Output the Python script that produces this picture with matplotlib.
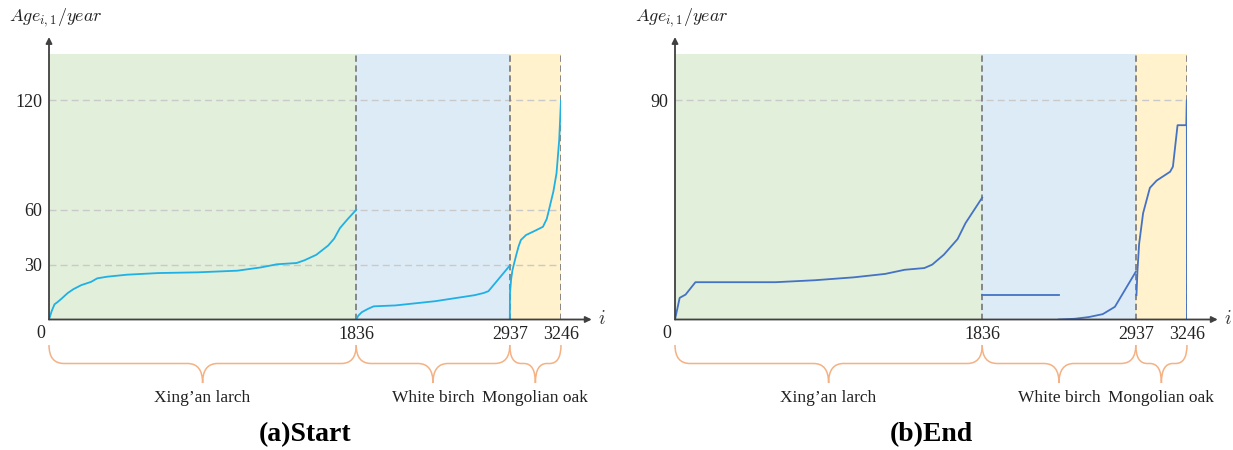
import numpy as np
import matplotlib
matplotlib.use("Agg")
import matplotlib.pyplot as plt
from matplotlib.path import Path
from matplotlib.patches import PathPatch

plt.rcParams["font.family"] = ["Liberation Serif", "DejaVu Serif"]
plt.rcParams["mathtext.fontset"] = "cm"

# boundaries between species (tree index i)
bounds = [0, 1836, 2937, 3246]
species = ["Xing\u2019an larch", "White birch", "Mongolian oak"]
shade_colors = ["#e2efda", "#ddebf7", "#fff2cc"]

# (a) Start
larch_start_i = [0, 16, 33, 52, 75, 111, 146, 193, 252, 288, 347, 465, 654, 890, 1126,
                 1267, 1362, 1480, 1527, 1598, 1669, 1704, 1739, 1786, 1836]
larch_start_age = [0, 4.6, 8.3, 9.6, 11.4, 14.4, 16.6, 18.8, 20.6, 22.5, 23.4, 24.5, 25.4,
                   25.8, 26.7, 28.5, 30.2, 30.9, 32.4, 35.4, 40.5, 44.2, 50, 55, 60]
birch_start_i = [1836, 1850, 1876, 1920, 1961, 2117, 2401, 2685, 2750, 2784, 2937]
birch_start_age = [0, 2, 4, 5.8, 7.2, 7.7, 10, 13.3, 14.5, 15.5, 29.5]
oak_start_i = [2937, 2938, 2945, 2953, 2973, 2990, 3004, 3035, 3086, 3137, 3160, 3178, 3200,
               3219, 3235, 3246]
oak_start_age = [0, 14.3, 22, 27, 34.3, 40, 43.5, 46.2, 48.4, 50.7, 55, 61.7, 70, 80, 98, 120]

# (b) End
larch_end_i = [0, 28, 63, 122, 601, 835, 1069, 1256, 1373, 1490, 1537, 1607, 1689, 1736, 1836]
larch_end_age = [0, 8.9, 10.2, 15.3, 15.3, 16.1, 17.3, 18.7, 20.4, 21.1, 22.5, 26.6, 33, 39.5, 50]
birch_end_a_i = [1836, 2388]
birch_end_a_age = [10.2, 10.2]
birch_end_b_i = [2385, 2500, 2600, 2700, 2787, 2937]
birch_end_b_age = [0, 0.3, 1, 2.2, 5.2, 19.6]
oak_end_i = [2941, 2947, 2957, 2981, 3022, 3063, 3144, 3161, 3189, 3242, 3245, 3246]
oak_end_age = [10, 20, 31, 43.6, 54, 57, 60.6, 62.7, 79.7, 79.7, 90, 0]

# the original figure does not space the index axis evenly
pos_frac = [0, 0.6, 0.9, 1.0]


def fwd(x):
    return np.interp(x, bounds, pos_frac)


def inv(x):
    return np.interp(x, pos_frac, bounds)


def draw_brace(fig, ax, x0, x1, color="#f4b183"):
    px0 = ax.transData.transform((x0, 0))[0]
    px1 = ax.transData.transform((x1, 0))[0]
    W, H = fig.get_size_inches() * fig.dpi
    top, mid, tip = 1 - 345 / H, 1 - 363.5 / H, 1 - 383 / H
    r = min(15.0, (px1 - px0) / 4.5)
    pm = (px0 + px1) / 2
    xs = [px0, px0, px0 + r, pm - r, pm, pm, pm, pm + r, px1 - r, px1, px1]
    xs = [v / W for v in xs]
    ys = [top, mid, mid, mid, mid, tip, mid, mid, mid, mid, top]
    codes = [Path.MOVETO, Path.CURVE3, Path.CURVE3, Path.LINETO, Path.CURVE3, Path.CURVE3,
             Path.CURVE3, Path.CURVE3, Path.LINETO, Path.CURVE3, Path.CURVE3]
    fig.add_artist(PathPatch(Path(list(zip(xs, ys)), codes), fill=False,
                             edgecolor=color, lw=1.1, transform=fig.transFigure))


def draw_panel(fig, left, series, ymax, yticks, color, caption):
    W, H = fig.get_size_inches() * fig.dpi
    ax = fig.add_axes([left / W, 1 - 319.5 / H, 512 / W, 265.5 / H])
    ax.set_xscale("function", functions=(fwd, inv))
    ax.set_xlim(0, 3246)
    ax.set_ylim(0, ymax)
    for k in range(3):
        ax.axvspan(bounds[k], bounds[k + 1], color=shade_colors[k], lw=0, zorder=0)
    for yt in yticks:
        ax.plot([0, 3246], [yt, yt], color="#c9c9c9", lw=1.0, dashes=(5, 3), zorder=1)
    for b in bounds[1:]:
        ax.plot([b, b], [0, ymax], color="#7f7f7f", lw=1.3, dashes=(3.5, 2), zorder=2)
    for xi, yi in series:
        ax.plot(xi, yi, color=color, lw=1.3, zorder=3)
    for s in ax.spines.values():
        s.set_visible(False)
    ax.annotate("", xy=(1.06, 0), xytext=(0, 0), xycoords="axes fraction",
                arrowprops=dict(arrowstyle="-|>", color="#404040", lw=1.3,
                                mutation_scale=9, shrinkA=0, shrinkB=0), zorder=4)
    ax.annotate("", xy=(0, 1.064), xytext=(0, 0), xycoords="axes fraction",
                arrowprops=dict(arrowstyle="-|>", color="#404040", lw=1.3,
                                mutation_scale=9, shrinkA=0, shrinkB=0), zorder=4)
    ax.set_xticks(bounds[1:])
    ax.set_xticklabels([str(b) for b in bounds[1:]], fontsize=13)
    ax.set_yticks(yticks)
    ax.set_yticklabels([str(v) for v in yticks], fontsize=13)
    ax.tick_params(length=0, pad=5, colors="#222222")
    ax.tick_params(axis="x", pad=5)
    ax.text(-8 / 512, -13.5 / 265.5, "0", transform=ax.transAxes, ha="center", va="center",
            fontsize=13, color="#222222")
    ax.text(1.08, 0.0, r"$i$", transform=ax.transAxes, ha="center", va="center", fontsize=14,
            color="#333333")
    ax.text(-40 / 512, (319.5 - 18) / 265.5, r"$Age_{i,1}/year$", transform=ax.transAxes,
            ha="left", va="center", fontsize=13, color="#222222")
    for k in range(3):
        draw_brace(fig, ax, bounds[k], bounds[k + 1])
        xm = (fwd(bounds[k]) + fwd(bounds[k + 1])) / 2
        ax.text(xm, (319.5 - 398) / 265.5, species[k], transform=ax.transAxes,
                ha="center", va="center", fontsize=12.5, color="#222222")
    ax.text(0.5, (319.5 - 435) / 265.5, caption, transform=ax.transAxes, ha="center",
            va="center", fontsize=20, fontweight="bold")
    return ax


fig = plt.figure(figsize=(12.33, 4.5), dpi=100)
draw_panel(fig, 49, [(larch_start_i, larch_start_age), (birch_start_i, birch_start_age),
                     (oak_start_i, oak_start_age)],
           145.2, [30, 60, 120], "#1fb0e6", "(a)Start")
draw_panel(fig, 675, [(larch_end_i, larch_end_age), (birch_end_a_i, birch_end_a_age),
                      (birch_end_b_i, birch_end_b_age), (oak_end_i, oak_end_age)],
           108.9, [90], "#4472c4", "(b)End")
fig.savefig("out.png", dpi=100)
